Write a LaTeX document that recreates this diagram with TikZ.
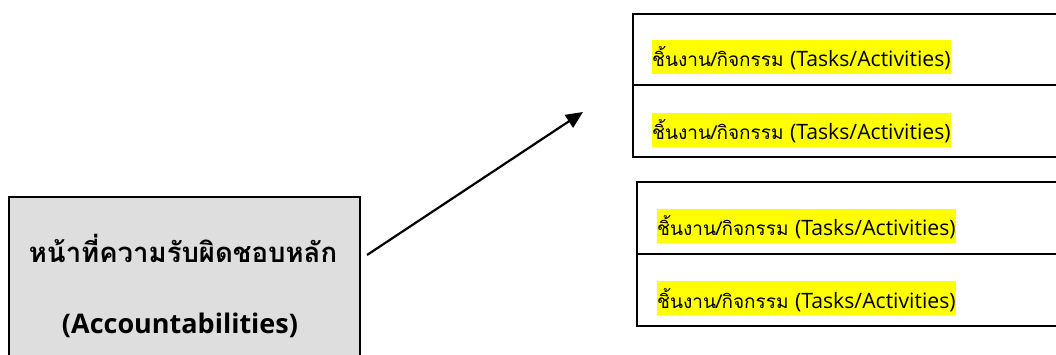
\documentclass[tikz,border=0pt]{standalone}
\usepackage{fontspec}
\newfontfamily\thaifont[Script=Thai]{Loma}
\newfontfamily\latinfont{Open Sans}
\usetikzlibrary{arrows.meta}
\definecolor{boxgray}{HTML}{DEDEDE}
\definecolor{marker}{HTML}{FFFF00}
\newcommand\tasklabel{ชิ้นงาน/กิจกรรม {\latinfont\fontsize{21.2}{20}\selectfont (Tasks/Activities)}}
\tikzset{
  cellbox/.style={draw=black, line width=1.6pt, fill=white, inner sep=0pt, anchor=north west},
  accbox/.style={draw=black, line width=1.6pt, fill=boxgray, inner sep=0pt, anchor=north west},
  tasktext/.style={font=\thaifont\fontsize{19}{19}\selectfont, fill=marker, inner sep=0pt,
                   text height=27pt, text depth=7pt, anchor=base west},
  acctext/.style={font=\thaifont\bfseries\fontsize{27.5}{27}\selectfont, inner sep=0pt, anchor=base},
  accltext/.style={font=\latinfont\bfseries\fontsize{27}{27}\selectfont, inner sep=0pt, anchor=base},
  arrowline/.style={line width=2.2pt, -{Triangle[length=17pt,width=15pt]}}
}
\begin{document}
\begin{tikzpicture}[x=1pt,y=-1pt]
\useasboundingbox (0,0) rectangle (1056,355);
\clip (0,0) rectangle (1056,355);

% main accountability box (runs off the lower edge)
\node[accbox, minimum width=351pt, minimum height=190pt] (acc) at (8,196) {};
\node[acctext] (accth) at (183,262) {หน้าที่ความรับผิดชอบหลัก};
\node[accltext] (accen) at (180,333) {(Accountabilities)};

% upper group of tasks
\node[cellbox, minimum width=440pt, minimum height=71pt] (t1) at (632,13) {};
\node[cellbox, minimum width=440pt, minimum height=72pt] (t2) at (632,84) {};
\node[tasktext] (t1txt) at (652,67) {\tasklabel};
\node[tasktext] (t2txt) at (652,140) {\tasklabel};

% lower group of tasks
\node[cellbox, minimum width=440pt, minimum height=72pt] (b1) at (636,181) {};
\node[cellbox, minimum width=440pt, minimum height=72pt] (b2) at (636,253) {};
\node[tasktext] (b1txt) at (657,236) {\tasklabel};
\node[tasktext] (b2txt) at (657,308) {\tasklabel};

% connector
\coordinate (a0) at (367,255);
\coordinate (a1) at (583,112);
\draw[arrowline] (a0) -- (a1);
\end{tikzpicture}
\end{document}
